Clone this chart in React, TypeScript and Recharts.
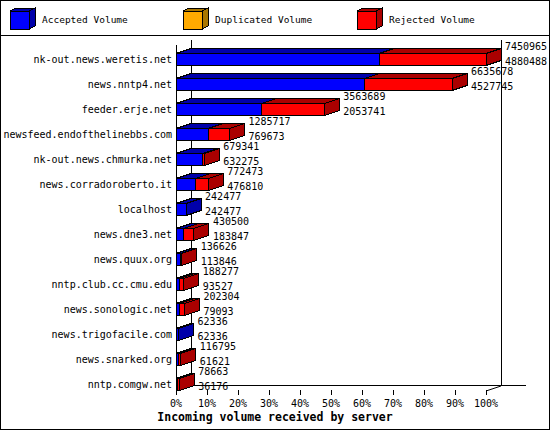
import { BarChart, Bar, XAxis, YAxis, LabelList } from 'recharts';

const servers = [
  'nk-out.news.weretis.net',
  'news.nntp4.net',
  'feeder.erje.net',
  'newsfeed.endofthelinebbs.com',
  'nk-out.news.chmurka.net',
  'news.corradoroberto.it',
  'localhost',
  'news.dne3.net',
  'news.quux.org',
  'nntp.club.cc.cmu.edu',
  'news.sonologic.net',
  'news.trigofacile.com',
  'news.snarked.org',
  'nntp.comgw.net',
];
const totalVolume = [7450965, 6635678, 3563689, 1285717, 679341, 772473, 242477, 430500, 136626, 188277, 202304, 62336, 116795, 78663];
const acceptedVolume = [4880488, 4527745, 2053741, 769673, 632275, 476810, 242477, 183847, 113846, 93527, 79093, 62336, 61621, 36176];
const duplicatedVolume = [0, 0, 0, 0, 0, 0, 0, 0, 0, 0, 0, 0, 0, 0];
const percentTicks = [0, 10, 20, 30, 40, 50, 60, 70, 80, 90, 100];

const seriesNames = ['Accepted Volume', 'Duplicated Volume', 'Rejected Volume'];
const frontColors = ['#0000ff', '#ffaa00', '#ff0000'];
const darkColors = ['#0000aa', '#aa7700', '#aa0000'];

const maxTotal = Math.max(...totalVolume);
const data = servers.map((name, i) => ({
  name,
  accepted: acceptedVolume[i],
  duplicated: duplicatedVolume[i],
  rejected: totalVolume[i] - acceptedVolume[i] - duplicatedVolume[i],
}));

const FONT = "'DejaVu Sans Mono', monospace";
const W = 550;
const H = 430;
const LEFT = 176;
const RIGHT_MARGIN = 64;
const TOP = 46.5;
const BOTTOM = 396.5;
const DX = 15;
const DY = 5;
const AXIS_Y = 390;
const BACK_TOP = 40;

const cube = (front: string, dark: string) => (props: any) => {
  const { x, y, width, height } = props;
  if (!width || width <= 0) return <g />;
  return (
    <g stroke="#000" strokeWidth={1} shapeRendering="crispEdges">
      <rect x={x} y={y} width={width} height={height} fill={front} />
      <polygon points={`${x},${y} ${x + DX},${y - DY} ${x + width + DX},${y - DY} ${x + width},${y}`} fill={dark} />
      <polygon
        points={`${x + width},${y} ${x + width + DX},${y - DY} ${x + width + DX},${y + height - DY} ${x + width},${y + height}`}
        fill={dark}
      />
    </g>
  );
};

const valueLabel = (props: any) => {
  const { x, y, width, height, index } = props;
  const tx = x + width + DX + 4;
  return (
    <g fontFamily={FONT} fontSize={10} fill="#000">
      <text x={tx} y={y - 4}>{totalVolume[index]}</text>
      <text x={tx} y={y + height - 1}>{acceptedVolume[index]}</text>
    </g>
  );
};

const percentTick = (props: any) => {
  const { x, payload } = props;
  const pct = Math.round((payload.value / maxTotal) * 100);
  return (
    <g>
      <line x1={x} x2={x} y1={AXIS_Y} y2={AXIS_Y + 5} stroke="#000" shapeRendering="crispEdges" />
      <text x={x} y={AXIS_Y + 17} textAnchor="middle" fontFamily={FONT} fontSize={10} fill="#000">
        {pct}%
      </text>
    </g>
  );
};

function Frame() {
  const right = W - RIGHT_MARGIN;
  const legendX = [10, 183, 357];
  return (
    <svg width={W} height={H} style={{ position: 'absolute', left: 0, top: 0 }}>
      <rect x={0.5} y={0.5} width={W - 1} height={H - 1} fill="#fff" stroke="#000" />
      <line x1={0} x2={W} y1={35.5} y2={35.5} stroke="#000" />
      {seriesNames.map((name, i) => {
        const lx = legendX[i];
        return (
          <g key={name}>
            <g stroke="#000" shapeRendering="crispEdges">
              <rect x={lx} y={11} width={19} height={18} fill={frontColors[i]} />
              <polygon points={`${lx},11 ${lx + 6},8 ${lx + 25},8 ${lx + 19},11`} fill={darkColors[i]} />
              <polygon points={`${lx + 19},11 ${lx + 25},8 ${lx + 25},26 ${lx + 19},29`} fill={darkColors[i]} />
            </g>
            <text x={lx + 32} y={23} fontFamily={FONT} fontSize={9.5} fill="#000">
              {name}
            </text>
          </g>
        );
      })}
      <g stroke="#000" shapeRendering="crispEdges">
        <line x1={LEFT + 0.5} x2={LEFT + 0.5} y1={BACK_TOP + DY} y2={AXIS_Y + 1} />
        <line x1={LEFT + DX + 0.5} x2={LEFT + DX + 0.5} y1={BACK_TOP} y2={AXIS_Y - DY + 0.5} />
        <line x1={right + DX + 0.5} x2={right + DX + 0.5} y1={BACK_TOP} y2={AXIS_Y - DY + 0.5} />
        <line x1={LEFT + DX} x2={right + DX + 25} y1={AXIS_Y - DY + 0.5} y2={AXIS_Y - DY + 0.5} />
      </g>
      <line x1={LEFT} y1={AXIS_Y + 1} x2={LEFT + DX} y2={AXIS_Y - DY + 1} stroke="#000" />
      <line x1={right} y1={AXIS_Y + 1} x2={right + DX} y2={AXIS_Y - DY + 1} stroke="#000" />
      <text x={W / 2} y={421} textAnchor="middle" fontFamily={FONT} fontSize={11.5} fontWeight="bold" fill="#000">
        Incoming volume received by server
      </text>
    </svg>
  );
}

export default function App() {
  return (
    <div style={{ position: 'absolute', left: 0, top: 0, width: W, height: H }}>
      <Frame />
      <div style={{ position: 'absolute', left: 0, top: 0 }}>
        <BarChart
          width={W}
          height={H}
          data={data}
          layout="vertical"
          margin={{ top: TOP, right: RIGHT_MARGIN, bottom: H - BOTTOM - 30, left: 0 }}
        >
          <XAxis
            type="number"
            domain={[0, maxTotal]}
            ticks={percentTicks.map((p) => (maxTotal * p) / 100)}
            axisLine={false}
            tickLine={false}
            tickSize={0}
            height={30}
            tick={percentTick}
            interval={0}
          />
          <YAxis
            type="category"
            dataKey="name"
            width={LEFT}
            axisLine={false}
            tickLine={false}
            tickSize={0}
            tickMargin={4}
            interval={0}
            tick={{ fontSize: 10, fontFamily: FONT, fill: '#000' }}
          />
          <Bar dataKey="accepted" stackId="v" barSize={12} shape={cube(frontColors[0], darkColors[0])} isAnimationActive={false} />
          <Bar dataKey="duplicated" stackId="v" barSize={12} shape={cube(frontColors[1], darkColors[1])} isAnimationActive={false} />
          <Bar dataKey="rejected" stackId="v" barSize={12} shape={cube(frontColors[2], darkColors[2])} isAnimationActive={false}>
            <LabelList dataKey="rejected" content={valueLabel} />
          </Bar>
        </BarChart>
      </div>
    </div>
  );
}
